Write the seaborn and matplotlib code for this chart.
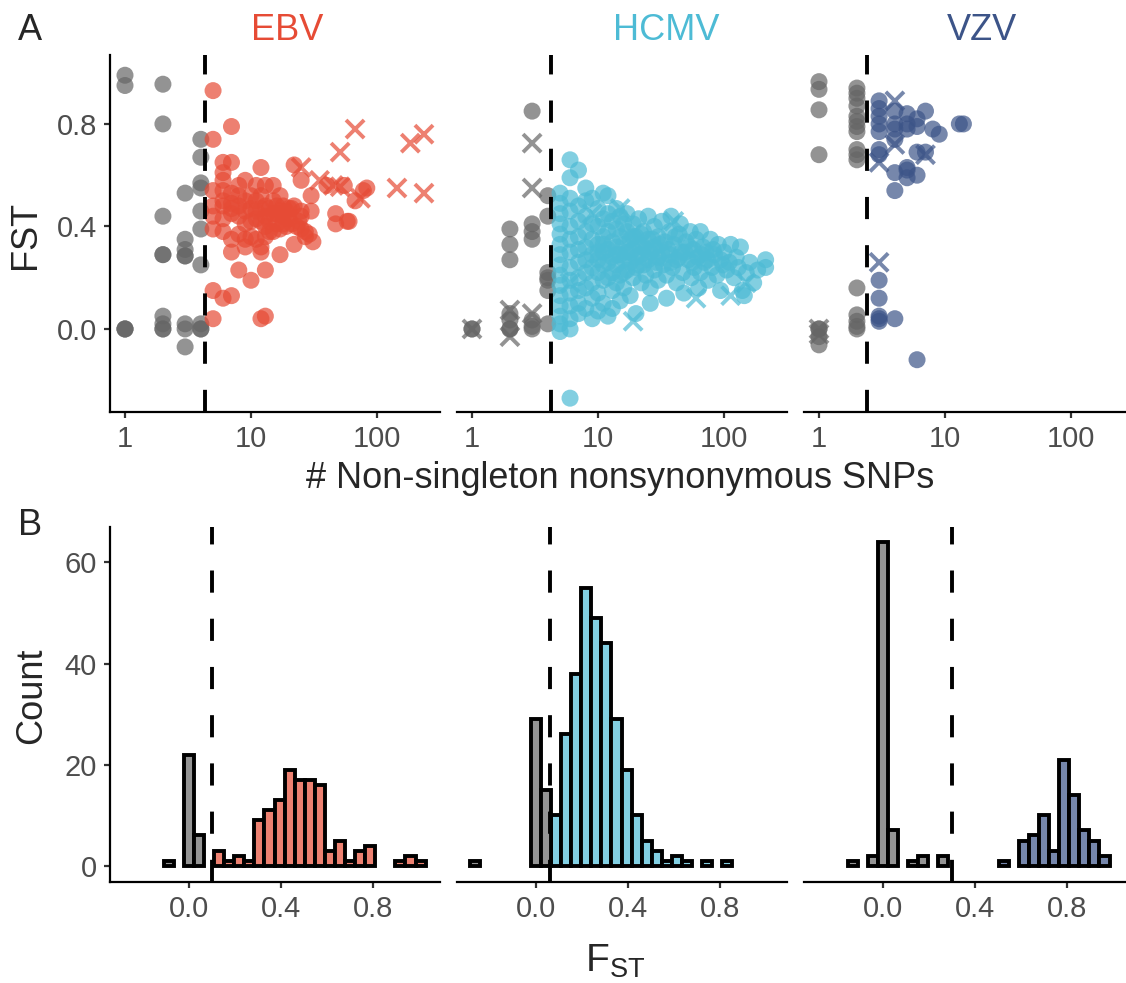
import numpy as np
import pandas as pd
import seaborn as sns
import matplotlib
matplotlib.use('Agg')
from matplotlib import pyplot as plt

# ---- data ----
viruses = ['EBV', 'HCMV', 'VZV']
colors = {'EBV': '#E64B35', 'HCMV': '#4DBBD5', 'VZV': '#3C5488'}
hist_fill = {'EBV': '#ED8171', 'HCMV': '#82CFE2', 'VZV': '#7687AC'}

# thresholds (dashed lines)
snp_cut = {'EBV': 4.3, 'HCMV': 4.25, 'VZV': 2.4}
fst_cut = {'EBV': 0.1, 'HCMV': 0.06, 'VZV': 0.3}

# top row: (# non-singleton nonsyn SNPs, FST), circles and crosses
ebv_circles = [
    (1, 0.99), (1, 0.95), (1, 0.0), (1, 0.0), (1, 0.0),
    (2, 0.955), (2, 0.80), (2, 0.44), (2, 0.29), (2, 0.29), (2, 0.05), (2, 0.02), (2, 0.0), (2, 0.0),
    (3, 0.53), (3, 0.35), (3, 0.31), (3, 0.285), (3, 0.285), (3, 0.02), (3, 0.0), (3, -0.07),
    (4, 0.74), (4, 0.67), (4, 0.57), (4, 0.55), (4, 0.46), (4, 0.39), (4, 0.25), (4, 0.02), (4, 0.0), (4, 0.0),
    (5, 0.93), (7, 0.79), (5, 0.74), (6, 0.65), (7, 0.65), (6, 0.61), (6, 0.58), (9, 0.58), (12, 0.63), (22, 0.64),
    (5, 0.54), (6, 0.54), (7, 0.53), (8, 0.52), (11, 0.56), (13, 0.56), (15, 0.56), (17, 0.52), (8, 0.56),
    (5, 0.48), (6, 0.48), (7, 0.49), (9, 0.50), (12, 0.52), (13, 0.48), (16, 0.48), (19, 0.46), (22, 0.48), (25, 0.46),
    (5, 0.44), (6, 0.43), (7, 0.45), (8, 0.44), (11, 0.43), (12, 0.42), (13, 0.44), (16, 0.45), (18, 0.44),
    (20, 0.43), (25, 0.44), (30, 0.46), (47, 0.45), (58, 0.42),
    (5, 0.39), (6, 0.38), (7, 0.35), (8, 0.37), (9, 0.35), (11, 0.35), (13, 0.36), (15, 0.38), (17, 0.39),
    (25, 0.39), (27, 0.38), (31, 0.34), (47, 0.41), (60, 0.42),
    (7, 0.30), (9, 0.32), (12, 0.30), (12, 0.32), (17, 0.29), (22, 0.33), (27, 0.36), (29, 0.37),
    (8, 0.23), (13, 0.23), (10, 0.19), (5, 0.15), (6, 0.12), (7, 0.13), (5, 0.04), (12, 0.04), (13, 0.05),
    (25, 0.58), (30, 0.52), (40, 0.56), (55, 0.56), (67, 0.50), (78, 0.54), (83, 0.55),
    (6, 0.50), (7, 0.47), (8, 0.48), (9, 0.46), (10, 0.47), (10, 0.42), (11, 0.50), (14, 0.47), (14, 0.42),
    (15, 0.45), (16, 0.41), (18, 0.48), (20, 0.47), (21, 0.41), (23, 0.40), (9, 0.41), (10, 0.36), (14, 0.38), (19, 0.40),
    (10, 0.52), (11, 0.46), (12, 0.47), (13, 0.40), (15, 0.50), (17, 0.46), (18, 0.41), (21, 0.47), (24, 0.42),
]
ebv_crosses = [
    (25, 0.63), (35, 0.58), (45, 0.56), (51, 0.69), (51, 0.555), (67, 0.78), (74, 0.51),
    (144, 0.55), (184, 0.725), (236, 0.76), (236, 0.53),
]

hcmv_circles = [
    (1, 0.0), (1, 0.0), (2, 0.39), (2, 0.33), (2, 0.27), (2, 0.06), (2, 0.035), (2, 0.0), (2, 0.0),
    (3, 0.85), (3, 0.41), (3, 0.38), (3, 0.35), (3, 0.035), (3, 0.0), (3, 0.01),
    (4, 0.52), (4, 0.44), (4, 0.22), (4, 0.20), (4, 0.19), (4, 0.15), (4, 0.02),
    (5, 0.53), (5, 0.49), (5, 0.45), (5, 0.41), (5, 0.37), (5, 0.33), (5, 0.29), (5, 0.25), (5, 0.21),
    (5, 0.17), (5, 0.13), (5, 0.09), (5, 0.05), (5, 0.02), (5, -0.01),
    (6, 0.51), (6, 0.46), (6, 0.40), (6, 0.35), (6, 0.30), (6, 0.24), (6, 0.19), (6, 0.14), (6, 0.09), (6, 0.04), (6, 0.0),
    (7, 0.48), (7, 0.42), (7, 0.36), (7, 0.31), (7, 0.26), (7, 0.20), (7, 0.15), (7, 0.10), (7, 0.06),
    (6, 0.66), (7, 0.62), (6, 0.59), (6, -0.27), (8, 0.55),
    (8, 0.50), (8, 0.44), (8, 0.38), (8, 0.32), (8, 0.27), (8, 0.22), (8, 0.16), (8, 0.08),
    (9, 0.51), (9, 0.41), (9, 0.35), (9, 0.29), (9, 0.24), (9, 0.18), (9, 0.12), (9, 0.04),
    (10, 0.47), (10, 0.40), (10, 0.33), (10, 0.27), (10, 0.22), (10, 0.14), (10, 0.07),
    (11, 0.53), (11, 0.43), (11, 0.36), (11, 0.30), (11, 0.25), (11, 0.19), (11, 0.10),
    (12, 0.52), (12, 0.45), (12, 0.38), (12, 0.31), (12, 0.26), (12, 0.20), (12, 0.05),
    (13, 0.42), (13, 0.34), (13, 0.28), (13, 0.22), (13, 0.15), (13, 0.08),
    (14, 0.47), (14, 0.39), (14, 0.32), (14, 0.25), (14, 0.18),
    (15, 0.44), (15, 0.36), (15, 0.29), (15, 0.21), (15, 0.11),
    (16, 0.41), (16, 0.33), (16, 0.27), (16, 0.16),
    (17, 0.45), (17, 0.38), (17, 0.30), (17, 0.23), (18, 0.35), (18, 0.26), (18, 0.13),
    (19, 0.41), (19, 0.31), (19, 0.20), (20, 0.36), (20, 0.28), (20, 0.24), (20, 0.06),
    (21, 0.43), (21, 0.33), (22, 0.29), (22, 0.18), (23, 0.38), (23, 0.25), (24, 0.31), (24, 0.21),
    (25, 0.44), (25, 0.35), (25, 0.27), (26, 0.16), (26, 0.10),
    (28, 0.40), (28, 0.32), (28, 0.23), (30, 0.36), (30, 0.28), (30, 0.19), (32, 0.42), (32, 0.30),
    (33, 0.25), (34, 0.34), (35, 0.21), (35, 0.12),
    (37, 0.38), (37, 0.29), (38, 0.44), (39, 0.24), (40, 0.33), (42, 0.27), (42, 0.18), (44, 0.37),
    (45, 0.41), (46, 0.30), (47, 0.22), (48, 0.14),
    (50, 0.34), (52, 0.27), (54, 0.38), (55, 0.20), (57, 0.31), (58, 0.24), (60, 0.35), (62, 0.28),
    (63, 0.16), (65, 0.38), (65, 0.22),
    (68, 0.32), (70, 0.26), (72, 0.30), (75, 0.19), (78, 0.35), (80, 0.24), (84, 0.29), (88, 0.21),
    (90, 0.33), (94, 0.27), (94, 0.15),
    (100, 0.30), (105, 0.23), (110, 0.26), (113, 0.33), (120, 0.20), (125, 0.28), (130, 0.24),
    (135, 0.32), (140, 0.15), (145, 0.13), (150, 0.22), (160, 0.26), (172, 0.18), (185, 0.23),
    (214, 0.27), (214, 0.24),
    (14, 0.29), (16, 0.22), (18, 0.30), (19, 0.36), (21, 0.25), (22, 0.37), (23, 0.32), (26, 0.30),
    (27, 0.35), (29, 0.26), (31, 0.33), (36, 0.31), (38, 0.26), (41, 0.36), (44, 0.28), (49, 0.30),
    (53, 0.32), (56, 0.26), (66, 0.29), (74, 0.27), (82, 0.31), (98, 0.25), (11, 0.33), (10, 0.30),
]
hcmv_crosses = [
    (1, 0.0), (2, 0.074), (2, -0.03), (3, 0.725), (3, 0.55), (3, 0.06),
    (6, 0.18), (9, 0.45), (15, 0.47), (19, 0.03), (28, 0.28), (40, 0.42), (60, 0.12), (113, 0.13), (150, 0.18),
]

vzv_circles = [
    (1, 0.965), (1, 0.935), (1, 0.855), (1, 0.68), (1, 0.0), (1, 0.0), (1, -0.03), (1, -0.062),
    (2, 0.94), (2, 0.92), (2, 0.90), (2, 0.87), (2, 0.83), (2, 0.81), (2, 0.79), (2, 0.77),
    (2, 0.70), (2, 0.68), (2, 0.66), (2, 0.16), (2, 0.055), (2, 0.03), (2, 0.0), (2, 0.01),
    (3, 0.89), (3, 0.86), (3, 0.83), (3, 0.80), (3, 0.77), (3, 0.70), (3, 0.68),
    (3, 0.19), (3, 0.12), (3, 0.05), (3, 0.03), (3, 0.04),
    (4, 0.85), (4, 0.80), (4, 0.78), (4, 0.74), (4, 0.61), (4, 0.54), (4, 0.04),
    (5, 0.84), (5, 0.80), (5, 0.78), (5, 0.63), (5, 0.59), (5, 0.62),
    (6, 0.82), (6, 0.69), (6, 0.60), (6, -0.12), (6, 0.79),
    (7, 0.85), (7, 0.69), (8, 0.78), (9, 0.76), (13, 0.80), (14, 0.80),
]
vzv_crosses = [(1, 0.0), (1, -0.02), (4, 0.89), (3, 0.65), (4, 0.72), (7, 0.68), (3, 0.26)]

# bottom row: histogram bins (index k -> centre k * bin width) and counts
bin_w = 0.0438
ebv_bins = [-2, 0, 1, 3, 4, 5, 6, 7, 8, 9, 10, 11, 12, 13, 14, 15, 16, 17, 18, 21, 22, 23]
ebv_counts = [1, 22, 6, 3, 1, 2, 1, 9, 11, 13, 19, 17, 17, 16, 3, 5, 1, 3, 4, 1, 2, 1]
hcmv_bins = [-6, 0, 1, 2, 3, 4, 5, 6, 7, 8, 9, 10, 11, 12, 13, 14, 15, 17, 19]
hcmv_counts = [1, 29, 15, 10, 26, 38, 55, 49, 44, 29, 19, 10, 5, 3, 1, 2, 1, 1, 1]
vzv_bins = [-3, -1, 0, 1, 3, 4, 6, 12, 14, 15, 16, 17, 18, 19, 20, 21, 22]
vzv_counts = [1, 2, 64, 7, 1, 2, 2, 1, 5, 6, 10, 3, 21, 14, 7, 5, 2]

points = {
    'EBV': (ebv_circles, ebv_crosses),
    'HCMV': (hcmv_circles, hcmv_crosses),
    'VZV': (vzv_circles, vzv_crosses),
}
hists = {
    'EBV': (ebv_bins, ebv_counts),
    'HCMV': (hcmv_bins, hcmv_counts),
    'VZV': (vzv_bins, vzv_counts),
}

# ---- figure ----
sns.set_theme(style='white')
plt.rcParams['font.family'] = ['Liberation Sans', 'DejaVu Sans']
plt.rcParams['mathtext.fontset'] = 'custom'
plt.rcParams['mathtext.rm'] = 'Liberation Sans'

W, H = 1126, 983
fig = plt.figure(figsize=(W / 100, H / 100), dpi=100)


def px_axes(left, top, width, height):
    return fig.add_axes([left / W, 1 - (top + height) / H, width / W, height / H])


def style_axes(ax, first):
    for s in ['top', 'right']:
        ax.spines[s].set_visible(False)
    ax.spines['bottom'].set_linewidth(1.6)
    ax.spines['bottom'].set_color('black')
    if first:
        ax.spines['left'].set_linewidth(1.6)
        ax.spines['left'].set_color('black')
    else:
        ax.spines['left'].set_visible(False)
    ax.tick_params(axis='both', length=4.5, width=1.6, color='#333333',
                   labelcolor='#4D4D4D', labelsize=21, pad=5)
    ax.tick_params(axis='y', left=first, labelleft=first)
    ax.tick_params(axis='x', bottom=True)
    ax.minorticks_off()
    ax.set_xlabel('')
    ax.set_ylabel('')
    ax.set_facecolor('none')


lefts = [110, 457, 804]
widths = [330, 330, 322]
gray = '#666666'
dash_kw = dict(color='black', lw=2.8, dashes=(5.7, 6.7), zorder=3)

for i, v in enumerate(viruses):
    # scatter panel
    ax = px_axes(lefts[i], 55, widths[i], 357)
    circ, cross = points[v]
    dfc = pd.DataFrame(circ, columns=['snps', 'fst'])
    dfc['grp'] = np.where(dfc['snps'] > snp_cut[v], 'above', 'below')
    dfx = pd.DataFrame(cross, columns=['snps', 'fst'])
    dfx['grp'] = np.where(dfx['snps'] > snp_cut[v], 'above', 'below')
    pal = {'below': gray, 'above': colors[v]}
    sns.scatterplot(data=dfc, x='snps', y='fst', hue='grp', palette=pal, s=150,
                    alpha=0.7, linewidth=0, legend=False, ax=ax, zorder=2)
    sns.scatterplot(data=dfx, x='snps', y='fst', hue='grp', palette=pal, s=170,
                    marker='x', linewidth=2.8, alpha=0.7, legend=False, ax=ax, zorder=2)
    ax.axvline(snp_cut[v], **dash_kw)
    ax.set_xscale('log')
    lo = -0.119
    ax.set_xlim(10 ** lo, 10 ** (lo + widths[i] / 126))
    ax.set_ylim(-0.324, 1.069)
    ax.set_xticks([1, 10, 100])
    ax.set_xticklabels(['1', '10', '100'])
    ax.set_yticks([0.0, 0.4, 0.8])
    ax.set_yticklabels(['0.0', '0.4', '0.8'])
    style_axes(ax, i == 0)

    # histogram panel
    bx = px_axes(lefts[i], 527, widths[i], 355)
    k, n = hists[v]
    dfh = pd.DataFrame({'fst': np.array(k) * bin_w, 'count': n})
    dfh['grp'] = np.where(dfh['fst'] > fst_cut[v], 'above', 'below')
    sns.histplot(data=dfh, x='fst', weights='count', hue='grp',
                 binwidth=bin_w, binrange=(-7.5 * bin_w, 24.5 * bin_w),
                 multiple='layer', palette={'below': '#949494', 'above': hist_fill[v]},
                 alpha=1, edgecolor='black', linewidth=2.8, legend=False, ax=bx)
    for p in bx.patches:
        if p.get_height() == 0:
            p.set_visible(False)
    bx.axvline(fst_cut[v], **dash_kw)
    bx.set_xlim(-0.343, -0.343 + widths[i] / 230)
    bx.set_ylim(-3.2, 67)
    bx.set_xticks([0.0, 0.4, 0.8])
    bx.set_xticklabels(['0.0', '0.4', '0.8'])
    bx.set_yticks([0, 20, 40, 60])
    bx.set_yticklabels(['0', '20', '40', '60'])
    style_axes(bx, i == 0)

# titles and labels
title_x = [287, 666, 982]
for i, v in enumerate(viruses):
    fig.text(title_x[i] / W, 1 - 40 / H, v, color=colors[v], fontsize=26,
             ha='center', va='baseline')
fig.text(18 / W, 1 - 40 / H, 'A', fontsize=26, ha='left', va='baseline')
fig.text(18 / W, 1 - 535 / H, 'B', fontsize=26, ha='left', va='baseline')
fig.text(26 / W, 1 - 235 / H, 'FST', fontsize=26, rotation=90, ha='center', va='center')
fig.text(32 / W, 1 - 696 / H, 'Count', fontsize=26, rotation=90, ha='center', va='center')
fig.text(620 / W, 1 - 488 / H, '# Non-singleton nonsynonymous SNPs', fontsize=26,
         ha='center', va='baseline')
fig.text(615 / W, 1 - 972 / H, r'$\mathregular{F_{ST}}$', fontsize=28,
         ha='center', va='baseline')

fig.savefig('out.png', dpi=100)
